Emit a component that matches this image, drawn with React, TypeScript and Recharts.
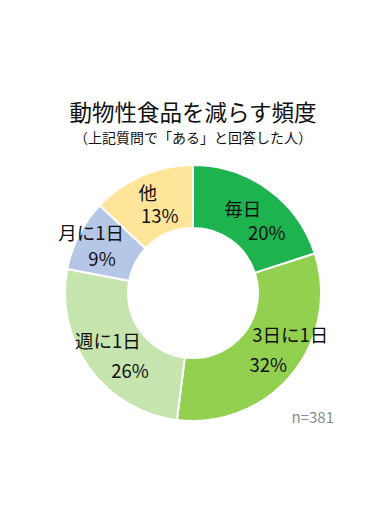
import React from "react";
import { PieChart, Pie, Cell } from "recharts";

const categories = ["毎日", "3日に1日", "週に1日", "月に1日", "他"];
const shares = [20, 32, 26, 9, 13];
const title = "動物性食品を減らす頻度";
const subtitle = "（上記質問で「ある」と回答した人）";
const sampleNote = "n=381";

const colors = ["#1DB34F", "#92D050", "#C6E4AE", "#B4C7E7", "#FFE59A"];
// label nudges relative to slice mid-point: [nameDx, nameDy, valueDx, valueDy]
const labelNudges = [
  [-7, -7, 17, 17],
  [23, -21, 1, 9],
  [-7, -10, 15, 20],
  [-16, -17, -5, 9],
  [-7, -12, 5, 11],
];

const data = categories.map((name, i) => ({ name, value: shares[i] }));
const FONT = "'Noto Sans CJK JP', 'Noto Sans', sans-serif";
const RADIAN = Math.PI / 180;

const renderLabel = (props: any) => {
  const { cx, cy, midAngle, innerRadius, outerRadius, index } = props;
  const r = (innerRadius + outerRadius) / 2;
  const x = cx + r * Math.cos(-midAngle * RADIAN);
  const y = cy + r * Math.sin(-midAngle * RADIAN);
  const n = labelNudges[index];
  return (
    <g>
      <text x={x + n[0]} y={y + n[1]} textAnchor="middle" dominantBaseline="central" fontSize={18.5} fill="#111" fontFamily={FONT}>
        {categories[index]}
      </text>
      <text x={x + n[2]} y={y + n[3]} textAnchor="middle" dominantBaseline="central" fontSize={18.5} fill="#111" fontFamily={FONT}>
        {shares[index] + "%"}
      </text>
    </g>
  );
};

export default function App() {
  return (
    <div style={{ position: "absolute", left: 0, top: 0, width: 386, height: 515, background: "#fff", fontFamily: FONT }}>
      <div style={{ position: "absolute", left: 0, width: 386, top: 99, height: 24, lineHeight: "24px", fontSize: 22.5, fontWeight: 400, textAlign: "center", color: "#111" }}>
        {title}
      </div>
      <div style={{ position: "absolute", left: 0, width: 386, top: 129, height: 16, lineHeight: "16px", fontSize: 14, textAlign: "center", color: "#111" }}>
        {subtitle}
      </div>
      <PieChart width={386} height={515} margin={{ top: 0, right: 0, bottom: 0, left: 0 }} style={{ position: "absolute", left: 0, top: 0 }}>
        <Pie
          data={data}
          dataKey="value"
          nameKey="name"
          cx={193}
          cy={293}
          innerRadius={65}
          outerRadius={128}
          startAngle={90}
          endAngle={-270}
          stroke="#fff"
          strokeWidth={2}
          labelLine={false}
          label={renderLabel}
          isAnimationActive={false}
        >
          {data.map((d, i) => (
            <Cell key={d.name} fill={colors[i]} />
          ))}
        </Pie>
      </PieChart>
      <div style={{ position: "absolute", left: 274, width: 60, top: 408, height: 18, lineHeight: "18px", fontSize: 15, textAlign: "right", color: "#8C8C8C" }}>
        {sampleNote}
      </div>
    </div>
  );
}
